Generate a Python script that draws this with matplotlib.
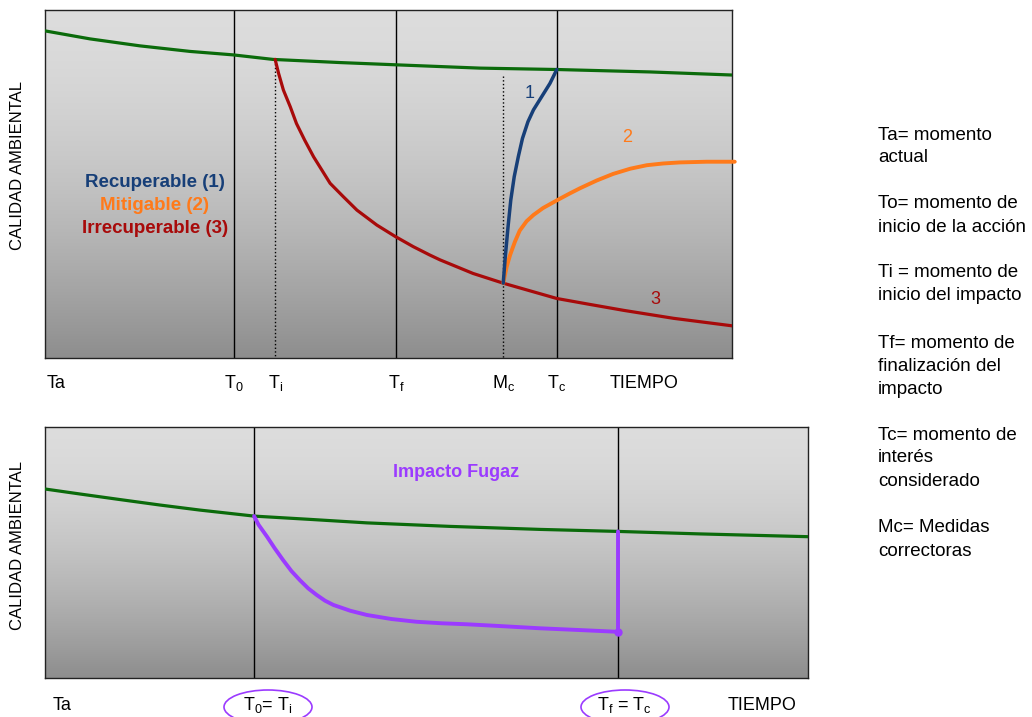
import numpy as np
import matplotlib
matplotlib.use("Agg")
import matplotlib.pyplot as plt
from matplotlib.patches import Ellipse

plt.rcParams['font.family'] = ['Liberation Sans', 'DejaVu Sans']
plt.rcParams['mathtext.fontset'] = 'custom'
plt.rcParams['mathtext.rm'] = 'Liberation Sans'
plt.rcParams['mathtext.it'] = 'Liberation Sans:italic'

# ---- top panel data (time 0-100, quality 0-100) ----
event_times = [27.5, 33.5, 51.1, 66.7, 74.5]      # T0, Ti, Tf, Mc, Tc
event_labels = [r'T$_\mathrm{0}$', r'T$_\mathrm{i}$', r'T$_\mathrm{f}$',
                r'M$_\mathrm{c}$', r'T$_\mathrm{c}$']

base_t = [0, 6.55, 13.8, 21.1, 27.4, 33.2, 42.9, 51.7, 63.3, 74.5, 88.1, 100.2]
base_q = [94.0, 91.7, 89.7, 88.1, 87.1, 85.8, 84.9, 84.2, 83.3, 82.9, 82.2, 81.3]

irrec_t = [33.5, 34.0, 34.7, 35.7, 36.6, 37.8, 39.1, 40.3, 41.5, 43.4, 45.4,
           48.3, 51.0, 53.6, 56.0, 57.5, 62.3, 66.7, 70.6, 74.5, 79.3, 84.2,
           91.5, 100.2]
irrec_q = [85.8, 81.8, 77.0, 72.2, 67.4, 62.6, 57.8, 54.0, 50.2, 46.4, 42.5,
           38.2, 34.9, 32.0, 29.6, 28.2, 24.3, 21.5, 19.3, 17.1, 15.4, 13.7,
           11.4, 9.2]

recup_t = [66.7, 67.0, 67.4, 67.8, 68.3, 68.9, 69.5, 70.3, 71.1, 72.3, 73.5, 74.5]
recup_q = [21.5, 29.1, 37.7, 45.4, 52.1, 57.9, 63.1, 67.9, 71.3, 75.1, 78.9, 82.9]

mitig_t = [66.7, 67.2, 67.7, 68.4, 69.1, 70.1, 71.1, 72.5, 74.6, 76.4, 77.9,
           80.3, 82.7, 85.2, 87.6, 90.0, 92.4, 96.3, 100.4]
mitig_q = [21.5, 26.2, 29.6, 33.4, 36.6, 39.3, 41.1, 43.1, 45.4, 47.3, 48.8,
           51.0, 52.9, 54.4, 55.4, 55.9, 56.2, 56.4, 56.4]

# ---- bottom panel data ----
event_times_b = [27.4, 75.1]                       # T0=Ti, Tf=Tc
base_t_b = [0, 4.6, 9.8, 15.1, 20.3, 27.4, 34.7, 42.2, 53.1, 64.9, 75.1, 85.9, 100]
base_q_b = [75.3, 73.3, 71.1, 68.9, 66.9, 64.5, 63.2, 61.8, 60.4, 59.2, 58.4,
            57.4, 56.3]

fugaz_t = [27.4, 28.0, 29.1, 30.1, 31.2, 32.3, 33.4, 34.5, 35.6, 36.7, 37.8,
           40.0, 42.2, 45.4, 48.7, 52.0, 55.3, 59.6, 64.9, 70.1, 75.1, 75.1]
fugaz_q = [64.5, 61.0, 56.3, 51.7, 47.0, 42.6, 39.0, 35.7, 33.1, 30.8, 29.1,
           26.8, 25.1, 23.5, 22.4, 21.8, 21.4, 20.7, 19.8, 19.1, 18.4, 58.4]

legend_names = ['Recuperable (1)', 'Mitigable (2)', 'Irrecuperable (3)']

GREEN = '#0B6B0B'
RED = '#A80A0A'
BLUE = '#173F78'
ORANGE = '#FF7A1A'
PURPLE = '#9B3BFF'

W, H = 1032, 717
fig = plt.figure(figsize=(W / 100, H / 100), dpi=100)


def px_axes(x0, y0, x1, y1):
    return fig.add_axes([x0 / W, 1 - y1 / H, (x1 - x0) / W, (y1 - y0) / H])


def gradient(ax):
    f = np.linspace(0, 1, 256)[:, None]
    g = 0.865 - 0.31 * f ** 1.6
    img = np.dstack([g, g, g])
    ax.imshow(img, extent=[0, 100, 0, 100], aspect='auto', zorder=0)
    ax.set_xlim(0, 100)
    ax.set_ylim(0, 100)
    ax.set_xticks([])
    ax.set_yticks([])
    for s in ax.spines.values():
        s.set_linewidth(1.0)
        s.set_color('#222222')


# ---------------- top panel ----------------
ax1 = px_axes(45, 10, 732, 358)
gradient(ax1)
for i in (0, 2, 4):
    ax1.axvline(event_times[i], color='black', lw=1.0, zorder=1)
ax1.plot([event_times[1]] * 2, [85.6, 0], color='black', ls=':', lw=1.0, zorder=1)
ax1.plot([event_times[3]] * 2, [81.0, 0], color='black', ls=':', lw=1.0, zorder=1)

ax1.plot(base_t, base_q, color=GREEN, lw=2.3, zorder=3)
ax1.plot(irrec_t, irrec_q, color=RED, lw=2.3, zorder=3, solid_capstyle='round',
         solid_joinstyle='round')
ax1.plot(mitig_t, mitig_q, color=ORANGE, lw=2.8, zorder=4, clip_on=False,
         solid_capstyle='round', solid_joinstyle='round')
ax1.plot(recup_t, recup_q, color=BLUE, lw=2.5, zorder=5, solid_capstyle='round',
         solid_joinstyle='round')

ax1.text(70.6, 76.1, '1', color=BLUE, fontsize=13, ha='center', va='center')
ax1.text(84.7, 63.5, '2', color=ORANGE, fontsize=13, ha='center', va='center')
ax1.text(88.8, 16.7, '3', color=RED, fontsize=13, ha='center', va='center')

for name, col, q in zip(legend_names, [BLUE, ORANGE, RED], [50.3, 43.7, 37.1]):
    ax1.text(16.0, q, name, color=col, fontsize=13.5, fontweight='bold',
             ha='center', va='center')

tr1 = ax1.get_xaxis_transform()
ax1.text(0.3, -0.072, 'Ta', transform=tr1, fontsize=13, ha='left', va='center')
for t, lab in zip(event_times, event_labels):
    ax1.text(t, -0.072, lab, transform=tr1, fontsize=13, ha='center', va='center')
ax1.text(82.2, -0.072, 'TIEMPO', transform=tr1, fontsize=13, ha='left', va='center')

# ---------------- bottom panel ----------------
ax2 = px_axes(45, 427, 808, 678)
gradient(ax2)
for t in event_times_b:
    ax2.axvline(t, color='black', lw=1.0, zorder=1)
ax2.plot(base_t_b, base_q_b, color=GREEN, lw=2.3, zorder=3)
ax2.plot(fugaz_t, fugaz_q, color=PURPLE, lw=2.8, zorder=4, solid_capstyle='round',
         solid_joinstyle='round')
ax2.plot([fugaz_t[-2]], [fugaz_q[-2]], 'o', color=PURPLE, ms=5, zorder=5)
ax2.text(53.9, 81.7, 'Impacto Fugaz', color=PURPLE, fontsize=13,
         fontweight='bold', ha='center', va='center')

tr2 = ax2.get_xaxis_transform()
ax2.text(1.0, -0.108, 'Ta', transform=tr2, fontsize=13, ha='left', va='center')
ax2.text(29.2, -0.108, r'T$_\mathrm{0}$= T$_\mathrm{i}$', transform=tr2,
         fontsize=13, ha='center', va='center')
ax2.text(76.0, -0.108, r'T$_\mathrm{f}$ = T$_\mathrm{c}$', transform=tr2,
         fontsize=13, ha='center', va='center')
ax2.text(89.5, -0.108, 'TIEMPO', transform=tr2, fontsize=13, ha='left', va='center')

for cx in (268, 625):
    fig.patches.append(Ellipse((cx / W, 1 - 707 / H), 88 / W, 34 / H,
                               transform=fig.transFigure, fill=False,
                               edgecolor=PURPLE, lw=1.2))

# y labels
fig.text(18 / W, 1 - 166 / H, 'CALIDAD AMBIENTAL', rotation=90, fontsize=12,
         ha='center', va='center')
fig.text(18 / W, 1 - 545 / H, 'CALIDAD AMBIENTAL', rotation=90, fontsize=12,
         ha='center', va='center')

# definitions on the right
notes = [
    (135, ['Ta= momento', 'actual']),
    (204, ['To= momento de', 'inicio de la acción']),
    (273, ['Ti = momento de', 'inicio del impacto']),
    (344, ['Tf= momento de', 'finalización del', 'impacto']),
    (435, ['Tc= momento de', 'interés', 'considerado']),
    (528, ['Mc= Medidas', 'correctoras']),
]
for y0, lines in notes:
    for k, line in enumerate(lines):
        fig.text(878 / W, 1 - (y0 + 23 * k) / H, line, fontsize=13.5,
                 ha='left', va='center')

fig.savefig('out.png', dpi=100)
